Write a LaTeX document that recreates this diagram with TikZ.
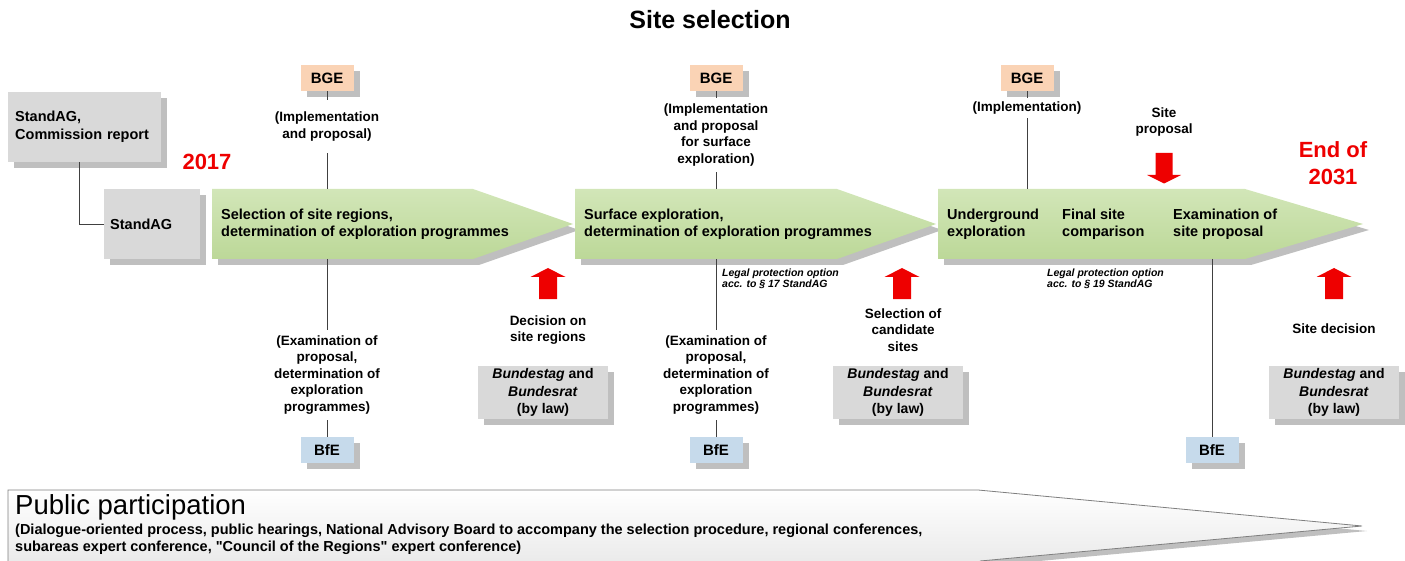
\documentclass[tikz,border=0pt]{standalone}
\usepackage{fontspec}
\setmainfont{Liberation Sans}[Ligatures=TeXOff]
\usetikzlibrary{shadows}
\definecolor{shadowgray}{HTML}{BFBFBF}
\definecolor{boxgray}{HTML}{D9D9D9}
\definecolor{greenA}{HTML}{D2E6B8}
\definecolor{greenB}{HTML}{BCD898}
\definecolor{bgeC}{HTML}{FAD3B5}
\definecolor{bfeC}{HTML}{C6DAEB}
\definecolor{redC}{HTML}{EE0000}
\definecolor{lineC}{HTML}{404040}
\definecolor{pubEdge}{HTML}{7F7F7F}
\begin{document}
\begin{tikzpicture}[x=1pt,y=-1pt,
  shadowed/.style={drop shadow={shadow xshift=6pt,shadow yshift=-6pt,fill=shadowgray,opacity=1}},
  graybox/.style={fill=boxgray,shadowed,inner ysep=0pt,font=\fontsize{14.5}{18}\selectfont\bfseries},
  orgbox/.style={shadowed,inner sep=0pt,minimum width=53pt,minimum height=26pt,font=\fontsize{15}{18}\selectfont\bfseries},
  lawbox/.style={fill=boxgray,shadowed,inner sep=0pt,minimum width=130pt,minimum height=53pt,align=center,font=\fontsize{14}{17.5}\selectfont\bfseries},
  lbl/.style={inner sep=0pt,align=center,font=\fontsize{13.5}{16.5}\selectfont\bfseries},
  arrtext/.style={anchor=west,inner sep=0pt,align=left,font=\fontsize{14.5}{17}\selectfont\bfseries},
  legal/.style={anchor=north west,inner sep=0pt,align=left,font=\fontsize{10.5}{11}\selectfont\bfseries\itshape},
  redtext/.style={text=redC,inner sep=0pt,align=center,font=\fontsize{22}{27}\selectfont\bfseries},
  conn/.style={draw=lineC,line width=0.8pt},
  redarrow/.style={fill=redC}
]
\useasboundingbox (0,0) rectangle (1405,561);

% title
\node[font=\fontsize{25}{29}\selectfont\bfseries,inner sep=0pt] (title) at (710,20) {Site selection};

% left boxes
\node[graybox,anchor=north west,text width=139pt,inner xsep=7pt,minimum height=70pt,align=left] (comm) at (8,92) {StandAG,\\Commission report};
\node[graybox,anchor=north west,text width=84pt,inner xsep=6pt,minimum height=70pt,align=left] (standag) at (104,189) {StandAG};
\draw[conn] ([xshift=-5.5pt]comm.south) |- (standag.west);

\node[redtext] (y2017) at (207,162) {2017};
\node[redtext] (end) at (1333,163) {End of\\2031};

% green arrows
\fill[shadowgray] (218,195) -- (479,195) -- (579,230) -- (479,265) -- (218,265) -- cycle;
\shade[top color=greenA,bottom color=greenB] (212,189) -- (473,189) -- (573,224) -- (473,259) -- (212,259) -- cycle;
\fill[shadowgray] (581,195) -- (843,195) -- (942,230) -- (843,265) -- (581,265) -- cycle;
\shade[top color=greenA,bottom color=greenB] (575,189) -- (837,189) -- (936,224) -- (837,259) -- (575,259) -- cycle;
\fill[shadowgray] (944,195) -- (1251,195) -- (1369,230) -- (1251,265) -- (944,265) -- cycle;
\shade[top color=greenA,bottom color=greenB] (938,189) -- (1245,189) -- (1363,224) -- (1245,259) -- (938,259) -- cycle;

\coordinate (a1top) at (327,189);
\coordinate (a1bot) at (327,259);
\coordinate (a2top) at (716,189);
\coordinate (a2bot) at (716,259);
\coordinate (a3top) at (1027,189);
\coordinate (a3bot) at (1212,259);

\node[arrtext] (s1) at (221,224) {Selection of site regions,\\determination of exploration programmes};
\node[arrtext] (s2) at (584,224) {Surface exploration,\\determination of exploration programmes};
\node[arrtext] (s3a) at (947,224) {Underground\\exploration};
\node[arrtext] (s3b) at (1062,224) {Final site\\comparison};
\node[arrtext] (s3c) at (1173,224) {Examination of\\site proposal};

% BGE column
\node[orgbox,fill=bgeC] (bge1) at (327,78) {BGE};
\node[orgbox,fill=bgeC] (bge2) at (716,78) {BGE};
\node[orgbox,fill=bgeC] (bge3) at (1027,78) {BGE};
\node[lbl,minimum height=53pt] (t1) at (327,126.5) {(Implementation\\and proposal)};
\node[lbl,minimum height=74pt] (t2) at (716,135) {(Implementation\\and proposal\\for surface\\exploration)};
\node[lbl,minimum height=20pt] (t3) at (1027,108) {(Implementation)};
\draw[conn] (bge1.south) -- (t1.north);
\draw[conn] (t1.south) -- (a1top);
\draw[conn] (bge2.south) -- (t2.north);
\draw[conn] (t2.south) -- (a2top);
\draw[conn] (bge3.south) -- (t3.north);
\draw[conn] (t3.south) -- (a3top);

% BfE column
\node[orgbox,fill=bfeC] (bfe1) at (327,450) {BfE};
\node[orgbox,fill=bfeC] (bfe2) at (716,450) {BfE};
\node[orgbox,fill=bfeC] (bfe3) at (1212,450) {BfE};
\node[lbl,minimum height=90pt] (b1) at (327,375) {(Examination of\\proposal,\\determination of\\exploration\\programmes)};
\node[lbl,minimum height=90pt] (b2) at (716,375) {(Examination of\\proposal,\\determination of\\exploration\\programmes)};
\draw[conn] (a1bot) -- (b1.north);
\draw[conn] (b1.south) -- (bfe1.north);
\draw[conn] (a2bot) -- (b2.north);
\draw[conn] (b2.south) -- (bfe2.north);
\draw[conn] (a3bot) -- (bfe3.north);

\node[legal] (lp1) at (722,269) {Legal protection option\\acc. to § 17 StandAG};
\node[legal] (lp2) at (1047,269) {Legal protection option\\acc. to § 19 StandAG};

% red arrows
\foreach \cx in {548,902,1334}{
  \fill[redarrow] (\cx-17.5,277) -- (\cx,268) -- (\cx+17.5,277) -- (\cx+9,277) -- (\cx+9,299) -- (\cx-9,299) -- (\cx-9,277) -- cycle;
}
\fill[redarrow] (1155.5,153) -- (1172.5,153) -- (1172.5,175) -- (1181,175) -- (1164,183.5) -- (1147,175) -- (1155.5,175) -- cycle;

\node[lbl] (sp) at (1164,122) {Site\\proposal};
\node[lbl] (d1) at (548,330) {Decision on\\site regions};
\node[lbl] (d2) at (903,330) {Selection of\\candidate\\sites};
\node[lbl] (d3) at (1334,329) {Site decision};

\node[lawbox] (law1) at (543,392.5) {\textit{Bundestag} and\\\textit{Bundesrat}\\(by law)};
\node[lawbox] (law2) at (898,392.5) {\textit{Bundestag} and\\\textit{Bundesrat}\\(by law)};
\node[lawbox] (law3) at (1334,392.5) {\textit{Bundestag} and\\\textit{Bundesrat}\\(by law)};

% public participation
\fill[shadowgray] (12,495) -- (983,495) -- (1367,531) -- (985,566) -- (12,566) -- cycle;
\shade[top color=white,bottom color=black!8] (8,490) -- (978,490) -- (1362,526) -- (980,561) -- (8,561) -- cycle;
\draw[draw=pubEdge,line width=0.8pt] (8,562) -- (8,490) -- (978,490) -- (1362,526) -- (980,561);
\node[anchor=west,inner sep=0pt,font=\fontsize{27.5}{31}\selectfont] (pub) at (15,507) {Public participation};
\node[anchor=north west,inner sep=0pt,align=left,font=\fontsize{14.5}{17}\selectfont\bfseries] (pubtext) at (15,524) {(Dialogue-oriented process, public hearings, National Advisory Board to accompany the selection procedure, regional conferences,\\subareas expert conference, "Council of the Regions" expert conference)};
\end{tikzpicture}
\end{document}
